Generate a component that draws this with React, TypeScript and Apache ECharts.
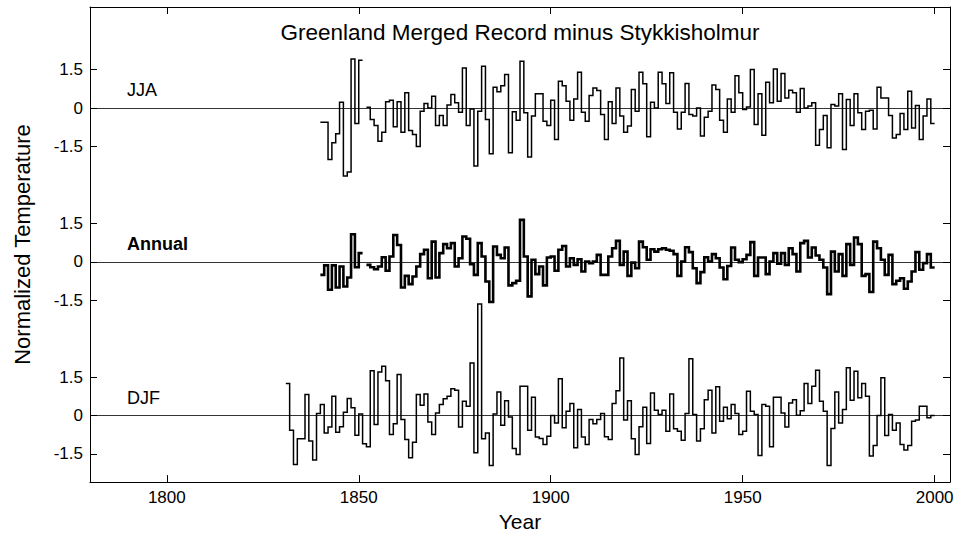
import React, { useEffect, useRef } from "react";
import * as echarts from "echarts";

const TITLE = "Greenland Merged Record minus Stykkisholmur";
const X_TITLE = "Year";
const Y_TITLE = "Normalized Temperature";
const X_TICKS = [1800, 1850, 1900, 1950, 2000];
const PANEL_TICKS = [-1.5, 0, 1.5];

// JJA (summer), one value per year from 1840; null = missing year
const JJA_START = 1840;
const JJA = [
  -0.55, -0.55, -2.0, -1.35, -1.0, 0.23, -2.65, -2.49, 1.92, -0.6,
  1.87, null, 0.04, -0.44, -0.68, -1.29, -0.94, 0.25, 0.31, -0.73,
  0.25, -0.94, 0.6, -0.87, -1.03, -1.5, -0.12, 0.18, 0.01, 0.47,
  -0.68, -0.29, -0.68, 0.12, 0.53, 0.21, -0.16, 1.57, -0.68, -0.03,
  -2.26, -0.12, 1.64, -0.44, -1.78, 0.82, 0.64, 0.88, 1.31, -1.74,
  -0.14, -0.47, 1.83, -0.18, -1.91, -0.31, 0.56, 0.56, -0.51, -0.68,
  0.31, -1.22, 1.05, 0.88, 0.27, -0.47, 0.36, 1.4, -0.16, -0.51,
  0.49, 0.79, 0.69, -0.25, -1.22, 0.25, -0.6, 0.79, -0.31, -0.94,
  -0.7, 0.73, -0.12, 1.4, 0.95, -1.12, 0.23, 0.01, 1.4, 0.95,
  0.18, 1.38, -0.16, -0.81, -0.16, 0.96, -0.25, -0.31, 0.01, -1.09,
  -0.35, -0.12, 0.9, 0.73, -0.47, -0.94, 0.36, -0.16, 1.27, 0.6,
  -0.05, 0.05, 1.51, -0.64, 0.56, -1.06, 1.01, 0.21, 1.53, 0.27,
  1.35, 0.4, 0.7, 0.6, -0.16, 0.77, 0.01, 0.08, 0.21, -1.45,
  -0.83, -0.29, -1.55, 0.14, 0.08, 0.56, -1.61, 0.34, -0.68, 0.56,
  -0.18, -0.83, -0.12, -0.08, -0.81, 0.82, 0.4, 0.4, -0.29, -1.16,
  -1.03, -0.21, -0.83, 0.66, -0.77, 0.1, -1.22, -0.31, 0.36, -0.6,
];

// Annual mean, from 1840
const ANNUAL_START = 1840;
const ANNUAL = [
  -0.51, -0.14, -1.09, -0.14, -1.0, -0.18, -0.96, -0.61, 1.08, -0.21,
  0.34, null, -0.12, -0.21, -0.29, -0.18, 0.18, -0.35, 0.21, 1.05,
  0.66, -1.0, -0.55, -0.87, -0.57, -0.18, 0.3, 0.47, -0.64, 0.79,
  -0.61, 0.34, 0.69, 0.53, 0.73, -0.18, 0.14, 0.99, 0.9, -0.09,
  -0.51, 0.73, 0.21, -0.77, -1.57, 0.6, 0.27, 0.14, 0.56, -0.92,
  -0.83, -0.74, 1.64, 0.21, -1.35, 0.08, -0.48, -0.18, -0.92, 0.17,
  0.21, -0.35, 0.47, 0.62, -0.18, 0.14, -0.12, 0.1, -0.38, 0.01,
  -0.05, 0.01, 0.27, -0.51, -0.51, 0.21, 0.53, 0.82, -0.12, 0.4,
  -0.55, -0.03, -0.25, 0.79, 0.57, 0.08, 0.49, 0.4, 0.49, 0.53,
  0.47, 0.43, 0.3, -0.55, 0.01, 0.57, 0.38, -0.25, -0.83, -0.4,
  0.18, 0.01, 0.3, 0.14, -0.22, -0.68, -0.16, 0.56, 0.08, -0.01,
  0.1, 0.27, 0.77, -0.55, 0.17, 0.17, -0.48, 0.01, 0.34, -0.07,
  0.34, -0.12, 0.53, 0.3, -0.38, 0.73, 0.82, 0.17, 0.56, 0.25,
  0.08, -0.22, -1.26, 0.4, -0.38, 0.3, -0.55, 0.69, -0.12, 0.95,
  0.69, -0.55, -0.48, -1.18, 0.79, 0.53, 0.08, -0.51, 0.27, -0.87,
  -0.74, -0.64, -1.05, -0.77, -0.38, 0.38, -0.31, -0.05, 0.3, -0.22,
];

// DJF (winter), from 1831
const DJF_START = 1831;
const DJF = [
  1.25, -0.58, -1.91, -0.91, -0.91, 0.82, -1.0, -1.74, 0.08,
  0.43, -0.68, -0.45, 0.75, -0.65, -0.44, 0.13, 0.66, 0.3, -0.77,
  0.06, -1.1, -1.22, 1.75, -0.35, 1.7, 1.92, 1.36, -0.74, -0.32,
  1.6, -0.16, -0.94, -1.65, -1.04, 0.82, 0.4, 0.84, -0.25, -0.74,
  0.1, 0.43, 0.65, 0.75, 1.04, 0.99, -0.45, 0.56, 0.36, 2.05,
  -1.45, 4.35, -0.91, -0.68, -1.95, 0.06, 0.92, -0.38, 0.58, -0.06,
  -1.29, -1.52, 1.14, 1.14, -0.58, 0.71, -0.84, -0.9, -1.13, -0.81,
  0.0, -0.29, 1.44, -0.48, 0.17, 0.47, -1.26, 0.23, -0.84, -1.13,
  -0.16, -0.32, -0.16, 0.08, -0.83, -0.94, 0.47, 0.97, 2.25, -0.18,
  0.58, -0.91, -1.52, -0.44, 0.32, -1.09, 0.88, 0.21, 0.04, 0.21,
  -0.61, 0.84, -0.52, -0.61, -0.97, 0.08, 2.22, 0.04, -1.0, -0.52,
  0.62, 0.99, -0.68, 1.12, -0.22, 0.32, -0.13, 0.43, 0.08, -0.74,
  -0.61, 0.95, 0.17, 0.04, -1.56, 0.43, 0.36, -1.22, 0.71, 0.71,
  0.1, -0.45, 0.49, 0.62, 0.01, 0.19, 1.25, 0.47, 1.14, 1.77,
  0.56, 0.17, -1.95, -0.51, 0.92, -0.29, 0.23, 1.86, 0.6, 1.73,
  0.69, 1.25, 0.75, -1.58, -1.17, 0.0, 1.47, -0.78, 0.04, -0.58,
  -0.29, -1.13, -1.35, -1.17, -0.22, -0.18, 0.36, 0.36, -0.09, 0.0,
];

const PANELS = [
  { label: "JJA", start: JJA_START, values: JJA, offset: 6, width: 1.5, bold: false },
  { label: "Annual", start: ANNUAL_START, values: ANNUAL, offset: 0, width: 2.6, bold: true },
  { label: "DJF", start: DJF_START, values: DJF, offset: -6, width: 1.5, bold: false },
];

const FONT = "'Liberation Sans', Arial, Helvetica, sans-serif";

function stairs(start: number, values: (number | null)[], offset: number) {
  const pts: any[] = [];
  values.forEach((v, i) => {
    const yr = start + i;
    if (v === null || v === undefined) {
      pts.push([yr, "-"]);
    } else {
      pts.push([yr, v + offset]);
      pts.push([yr + 1, v + offset]);
    }
  });
  return pts;
}

export default function App() {
  const ref = useRef<HTMLDivElement>(null);
  useEffect(() => {
    document.body.style.margin = "0";
    if (!ref.current) return;
    const chart = echarts.init(ref.current, null, { renderer: "svg" });

    const yTicks: number[] = [];
    PANELS.forEach((p) => PANEL_TICKS.forEach((t) => yTicks.push(p.offset + t)));
    const yLabel = (v: number) => {
      for (const p of PANELS) {
        const d = v - p.offset;
        if (Math.abs(d) <= 1.6) return String(Math.round(d * 10) / 10);
      }
      return "";
    };

    const XMIN = 1780, XMAX = 2004, YMIN = -8.6, YMAX = 9.95;
    const axisLine = { show: true, onZero: false, lineStyle: { color: "#000", width: 1 } };
    const tickStyle = { color: "#000", width: 1 };

    const option: any = {
      animation: false,
      backgroundColor: "#fff",
      grid: { left: 90, top: 7, width: 860, height: 476, containLabel: false },
      xAxis: [
        {
          type: "value", min: XMIN, max: XMAX, position: "bottom",
          axisLine,
          axisTick: { show: true, inside: true, length: 7, customValues: X_TICKS, lineStyle: tickStyle },
          axisLabel: {
            show: true, customValues: X_TICKS, formatter: (v: number) => String(v),
            color: "#000", fontSize: 17, fontFamily: FONT, margin: 7,
          },
          splitLine: { show: false },
          name: X_TITLE, nameLocation: "middle", nameGap: 26,
          nameTextStyle: { color: "#000", fontSize: 21, fontFamily: FONT },
        },
        {
          type: "value", min: XMIN, max: XMAX, position: "top",
          axisLine,
          axisTick: { show: true, inside: true, length: 7, customValues: X_TICKS, lineStyle: tickStyle },
          axisLabel: { show: false },
          splitLine: { show: false },
        },
      ],
      yAxis: [
        {
          type: "value", min: YMIN, max: YMAX, position: "left",
          axisLine,
          axisTick: { show: true, inside: true, length: 7, customValues: yTicks, lineStyle: tickStyle },
          axisLabel: {
            show: true, customValues: yTicks, formatter: yLabel,
            color: "#000", fontSize: 17, fontFamily: FONT, margin: 7,
          },
          splitLine: { show: false },
          name: Y_TITLE, nameLocation: "middle", nameGap: 57,
          nameTextStyle: { color: "#000", fontSize: 22, fontFamily: FONT },
        },
        {
          type: "value", min: YMIN, max: YMAX, position: "right",
          axisLine,
          axisTick: { show: true, inside: true, length: 7, customValues: yTicks, lineStyle: tickStyle },
          axisLabel: { show: false },
          splitLine: { show: false },
        },
      ],
      series: PANELS.map((p) => ({
        type: "line",
        name: p.label,
        xAxisIndex: 0,
        yAxisIndex: 0,
        data: stairs(p.start, p.values, p.offset),
        symbol: "none",
        showSymbol: false,
        connectNulls: false,
        lineStyle: { color: "#000", width: p.width, join: "miter" },
        markLine: {
          silent: true,
          symbol: ["none", "none"],
          label: { show: false },
          lineStyle: { color: "#000", width: 0.8, type: "solid" },
          data: [{ yAxis: p.offset }],
        },
      })),
      graphic: [
        {
          type: "text", x: 520, y: 32,
          style: { text: TITLE, fill: "#000", font: `22.5px ${FONT}`, textAlign: "center", textVerticalAlign: "middle" },
        },
        ...PANELS.map((p, i) => ({
          type: "text", x: 127, y: [90, 244, 398][i],
          style: {
            text: p.label, fill: "#000",
            font: `${p.bold ? "bold " : ""}18px ${FONT}`,
            textAlign: "left", textVerticalAlign: "middle",
          },
        })),
      ],
    };
    chart.setOption(option);
    return () => chart.dispose();
  }, []);
  return <div ref={ref} style={{ width: 964, height: 537 }} />;
}
